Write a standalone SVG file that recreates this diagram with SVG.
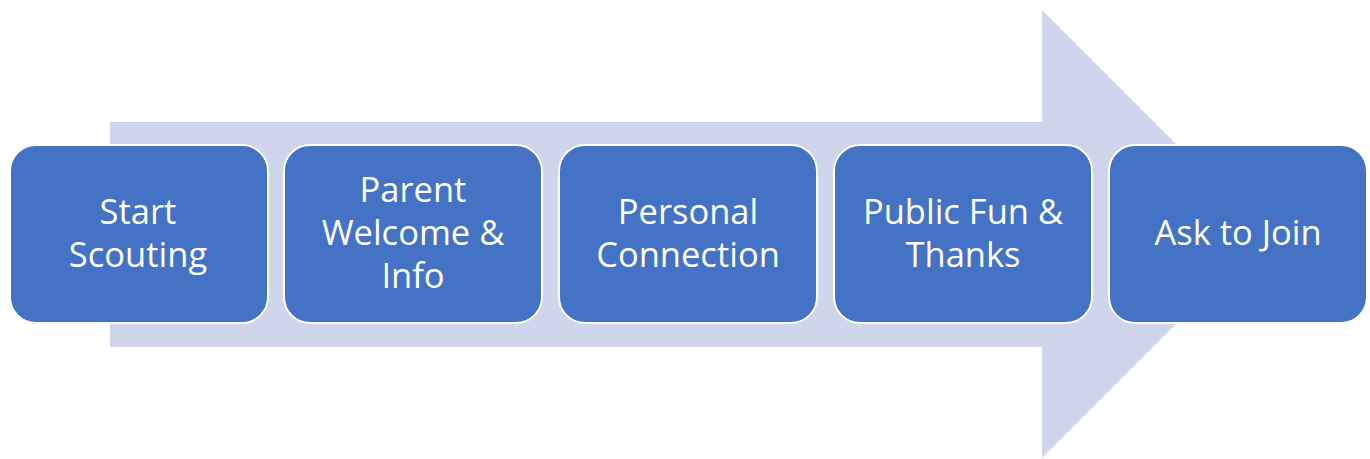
<svg xmlns="http://www.w3.org/2000/svg" width="1370" height="459" viewBox="0 0 1370 459">
  <style>
    .step rect { fill: #4472C4; stroke: #FFFFFF; stroke-width: 2; }
    .step text { fill: #FFFFFF; font-family: "Open Sans", "Noto Sans", sans-serif; font-size: 34.5px; text-anchor: middle; }
  </style>
  <!-- background process arrow -->
  <polygon id="flow-arrow" points="110,122 1042,122 1042,10 1266,234 1042,458 1042,347 110,347" fill="#CFD5EA"/>
  <g id="connectors"></g>
  <g id="step-1" class="step">
    <rect x="10" y="145" width="258" height="178" rx="26"/>
    <text x="138" y="224">Start</text>
    <text x="138" y="267">Scouting</text>
  </g>
  <g id="step-2" class="step">
    <rect x="284" y="145" width="258" height="178" rx="26"/>
    <text x="413" y="202">Parent</text>
    <text x="413" y="245">Welcome &amp;</text>
    <text x="413" y="288">Info</text>
  </g>
  <g id="step-3" class="step">
    <rect x="559" y="145" width="258" height="178" rx="26"/>
    <text x="688" y="224">Personal</text>
    <text x="688" y="267">Connection</text>
  </g>
  <g id="step-4" class="step">
    <rect x="834" y="145" width="258" height="178" rx="26"/>
    <text x="963" y="224">Public Fun &amp;</text>
    <text x="963" y="267">Thanks</text>
  </g>
  <g id="step-5" class="step">
    <rect x="1109" y="145" width="258" height="178" rx="26"/>
    <text x="1238" y="245">Ask to Join</text>
  </g>
</svg>
